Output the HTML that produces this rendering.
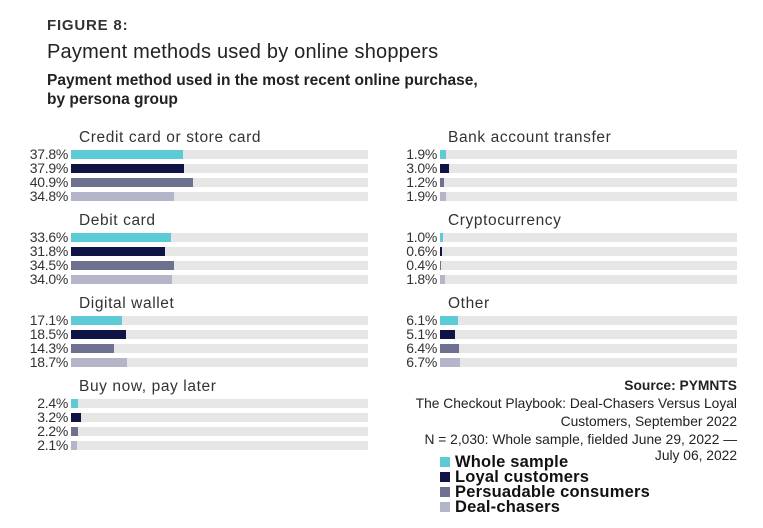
<!DOCTYPE html><html><head><style>
body{margin:0;width:763px;height:528px;background:#fff;font-family:"Liberation Sans",sans-serif;position:relative;overflow:hidden;color:#222}
div{position:absolute}
.t{white-space:nowrap}
.track{background:#e6e6e6;height:9px;width:297px}
.bar{height:9px;left:0;top:0}
.lab{font-size:14px;color:#333;text-align:right;width:62px;line-height:14px;letter-spacing:-0.3px}
.gt{font-size:15.5px;color:#333;letter-spacing:0.6px}
.src{right:26px;text-align:right;font-size:13.8px;color:#222}
.lg{font-size:16.5px;font-weight:bold;color:#111;left:455px;letter-spacing:0.2px}
.sq{width:10px;height:10px;left:440px}
</style></head><body>
<div class="t" style="left:47px;top:17px;font-size:15px;font-weight:bold;color:#333;letter-spacing:0.8px">FIGURE 8:</div>
<div class="t" style="left:47px;top:41px;font-size:20px;color:#222;letter-spacing:0.2px">Payment methods used by online shoppers</div>
<div class="t" style="left:47px;top:71px;font-size:15.5px;font-weight:bold;color:#222;line-height:19px">Payment method used in the most recent online purchase,<br>by persona group</div>
<div id="c"></div>
<div class="src t" style="top:378px;font-weight:bold">Source: PYMNTS</div>
<div class="src t" style="top:396px">The Checkout Playbook: Deal-Chasers Versus Loyal</div>
<div class="src t" style="top:414px">Customers, September 2022</div>
<div class="src t" style="top:432px">N = 2,030: Whole sample, fielded June 29, 2022 —</div>
<div class="src t" style="top:448px">July 06, 2022</div>
<div class="sq" style="top:457px;background:#5ccbd6"></div><div class="lg t" style="top:453px">Whole sample</div>
<div class="sq" style="top:472px;background:#0f1445"></div><div class="lg t" style="top:468px">Loyal customers</div>
<div class="sq" style="top:487px;background:#6e7090"></div><div class="lg t" style="top:483px">Persuadable consumers</div>
<div class="sq" style="top:502px;background:#b4b5c8"></div><div class="lg t" style="top:498px">Deal-chasers</div>
<script>
var cols=["#5ccbd6","#0f1445","#6e7090","#b4b5c8"];
var g=[["Credit card or store card",[37.8,37.9,40.9,34.8],0,0],["Debit card",[33.6,31.8,34.5,34.0],0,1],["Digital wallet",[17.1,18.5,14.3,18.7],0,2],["Buy now, pay later",[2.4,3.2,2.2,2.1],0,3],
["Bank account transfer",[1.9,3.0,1.2,1.9],1,0],["Cryptocurrency",[1.0,0.6,0.4,1.8],1,1],["Other",[6.1,5.1,6.4,6.7],1,2]];
var h="";
g.forEach(function(d){var x=d[2]?440:71,y0=129+d[3]*83;
h+='<div class="gt t" style="left:'+(x+8)+'px;top:'+y0+'px">'+d[0]+'</div>';
d[1].forEach(function(v,i){var y=150+d[3]*83+i*14;
h+='<div class="lab" style="left:'+(x-65)+'px;top:'+(y-3)+'px">'+v.toFixed(1)+'%</div>';
h+='<div class="track" style="left:'+x+'px;top:'+y+'px"><div class="bar" style="width:'+(v*2.97).toFixed(1)+'px;background:'+cols[i]+'"></div></div>';});});
document.getElementById("c").innerHTML=h;
</script>
</body></html>
